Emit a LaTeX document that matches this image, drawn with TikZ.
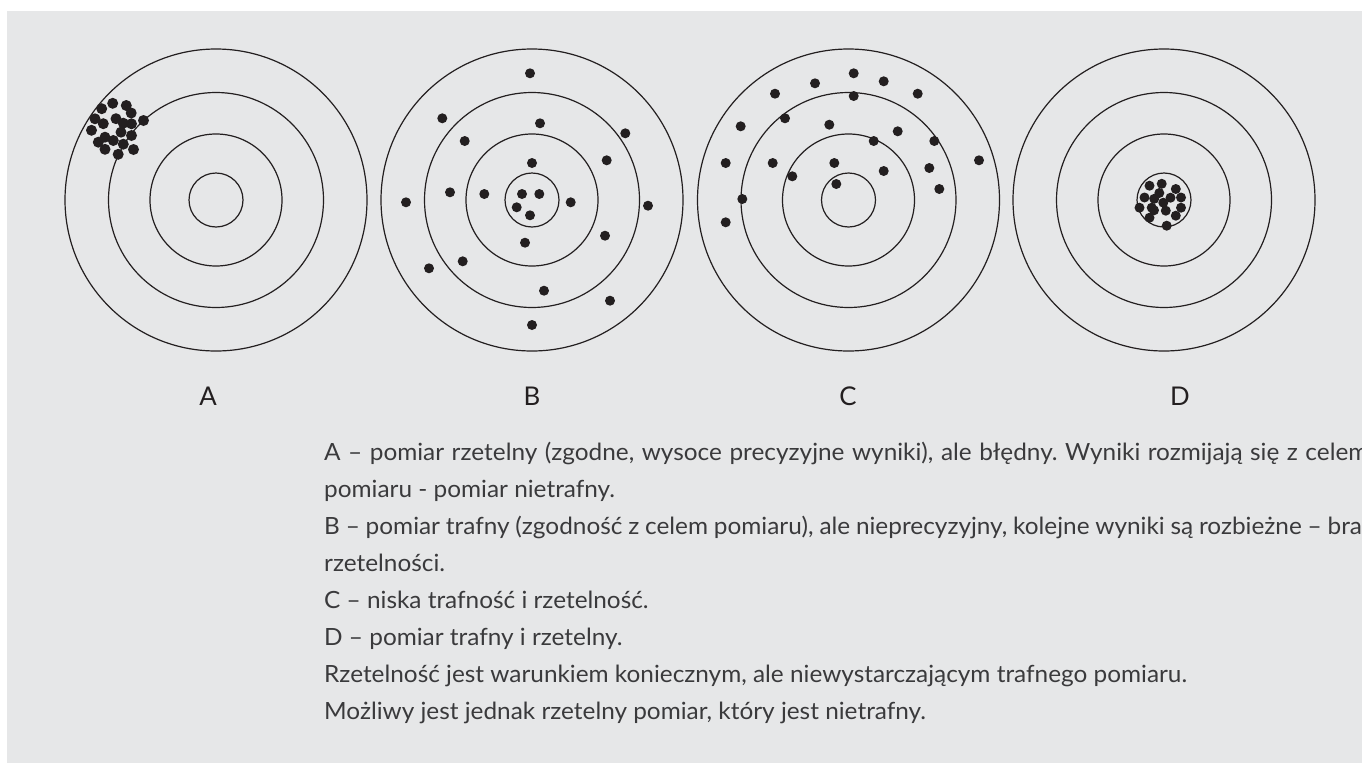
\documentclass[tikz,border=0pt]{standalone}
\usepackage{fontspec}
\setmainfont{Lato}
\newfontfamily\notefont[FakeStretch=1.028]{Lato}
\usepackage{tikz}
\definecolor{panel}{HTML}{E6E7E8}
\definecolor{ink}{HTML}{231F20}
\definecolor{txt}{HTML}{3A3A3C}
\tikzset{
  ring/.style={draw=ink,line width=1.2pt},
  shot/.style={fill=ink},
  tag/.style={text=ink,inner sep=0pt,font=\fontsize{25.8}{30}\selectfont},
  note/.style={anchor=base west,inner sep=0pt,text=txt,font=\notefont\fontsize{23.7}{28}\selectfont\frenchspacing}
}

\begin{document}
\begin{tikzpicture}[x=1pt,y=-1pt]
      \useasboundingbox (0,0) rectangle (1362,763);
      \clip (0,0) rectangle (1362,763);
      \fill[panel] (7,11) rectangle (1362,763);

      % four targets
      \foreach \cx in {216, 532, 848.5, 1164} {
        \foreach \r in {27, 66, 107.5, 151} {
          \draw[ring] (\cx,200) circle[radius=\r pt];
        }
      }

      % A: tight group, off centre
      \foreach \x/\y in {101.7/108.7, 112.7/103.3, 126.3/105.5, 131.2/113, 95/118.8,
                         103.3/123.7, 116/118.7, 123.3/123.2, 131.5/123.8, 143.5/120.5,
                         91.5/130.3, 121/132.2, 131.5/135.5, 98.3/142.2, 105/137.2,
                         113.3/140.5, 123.3/144.2, 105/149.3, 118.2/154.3, 133.5/149.5} {
        \fill[shot] (\x,\y) circle[radius=5.5pt];
      }

      % B: spread round the centre
      \foreach \x/\y in {530/73.3, 442.3/118.3, 540/123.3, 625.3/133.3, 464.7/141,
                         606.7/160.3, 532/163, 450/192.3, 484.3/194, 522/194,
                         539.3/194, 406/202.3, 570.7/202.3, 648/205.7, 516.7/207.3,
                         530/215.3, 525/242.7, 605/235.7, 462.7/261.3, 429/268.3,
                         544/290.7, 610/300.7, 532/325} {
        \fill[shot] (\x,\y) circle[radius=5pt];
      }

      % C: spread, upper half
      \foreach \x/\y in {853.7/73.3, 815/83.3, 883.7/81.3, 775/93.7, 917.7/93.7,
                         853.7/96, 740.7/126.3, 785/118.3, 829.3/124.7, 897.7/131.3,
                         873.7/141, 934.3/141, 725.7/163, 772.7/163, 834.3/163,
                         883.7/171, 929.3/168, 979/160.3, 792.3/176.3, 836.3/184,
                         939.3/189, 742.3/199, 725.7/222.3} {
        \fill[shot] (\x,\y) circle[radius=5pt];
      }

      % D: tight group in the middle
      \foreach \x/\y in {1149.5/185.7, 1161.7/183.8, 1175.8/189, 1159.3/193, 1144.5/197.5,
                         1154.2/198.8, 1170.5/197.7, 1181/197.5, 1163.3/202.7, 1139.5/207.7,
                         1151.7/207.7, 1181/207.7, 1165.8/210.7, 1154/210.3, 1149.5/217.7,
                         1175.8/215.7, 1166.7/225.7} {
        \fill[shot] (\x,\y) circle[radius=5pt];
      }

      \node[tag] (labA) at (208, 396.4) {A};
      \node[tag] (labB) at (532, 396.4) {B};
      \node[tag] (labC) at (848, 396.4) {C};
      \node[tag] (labD) at (1180, 396.4) {D};

      \node[note] (noteA) at (324, 460) {\makebox[1044pt][s]{A – pomiar rzetelny (zgodne, wysoce precyzyjne wyniki), ale błędny. Wyniki rozmijają się z celem}};
      \node[note] (noteA2) at (324, 497) {pomiaru - pomiar nietrafny.};
      \node[note] (noteB) at (324, 534) {\makebox[1050pt][s]{B – pomiar trafny (zgodność z celem pomiaru), ale nieprecyzyjny, kolejne wyniki są rozbieżne – brak}};
      \node[note] (noteB2) at (324, 571) {rzetelności.};
      \node[note] (noteC) at (324, 608) {C – niska trafność i rzetelność.};
      \node[note] (noteD) at (324, 645) {D – pomiar trafny i rzetelny.};
      \node[note] (noteR) at (324, 682) {Rzetelność jest warunkiem koniecznym, ale niewystarczającym trafnego pomiaru.};
      \node[note] (noteM) at (324, 719) {Możliwy jest jednak rzetelny pomiar, który jest nietrafny.};
    \end{tikzpicture}
\end{document}
